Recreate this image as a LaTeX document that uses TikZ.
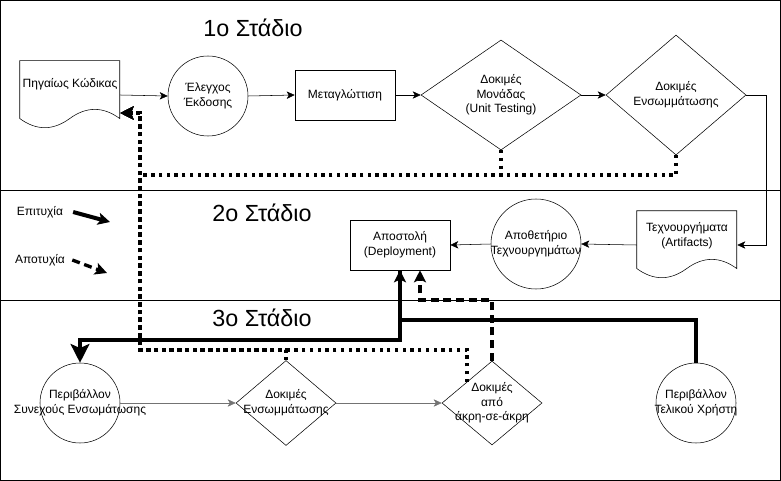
\documentclass[tikz,border=0pt]{standalone}
\usepackage{fontspec}
\setmainfont{Liberation Sans}
\usetikzlibrary{calc,positioning,arrows.meta,shapes.geometric}

% outline of a document box, drawn from the node's corner
\newcommand{\docshape}[1]{%
  \begin{scope}[shift={(#1.north west)}]
    \draw (0,0) -- (100,0) -- (100,57.8)
      .. controls (83.3,45.6) and (66.7,45.6) .. (50,57.8)
      .. controls (33.3,70) and (16.7,70) .. (0,57.8) -- cycle;
  \end{scope}}

\begin{document}
\begin{tikzpicture}[x=0.75pt,y=-0.75pt,
    docbox/.style={inner sep=0pt,minimum width=75pt,minimum height=51pt},
    roundbox/.style={circle,draw,inner sep=0pt,minimum size=60pt},
    stepbox/.style={rectangle,draw,inner sep=0pt,minimum width=75pt,minimum height=37.5pt},
    gate/.style={diamond,draw,inner sep=0pt},
    boxtext/.style={align=center,font=\fontsize{9}{11}\selectfont},
    stage/.style={font=\fontsize{17.5}{21}\selectfont},
    flow/.style={-{Stealth[length=6pt,width=5.5pt,inset=1.5pt]}},
    lowflow/.style={flow,draw=black!55},
    okline/.style={line width=3pt,-{Stealth[length=9pt,width=9pt,inset=2pt]}},
    failline/.style={line width=2.5pt,dash pattern=on 6pt off 3.5pt,-{Stealth[length=9pt,width=9pt,inset=2pt]}},
    retryline/.style={line width=2.5pt,dash pattern=on 2.4pt off 3.4pt,-{Stealth[length=10pt,width=10pt,inset=2pt]}}
  ]

  \useasboundingbox (0,0) rectangle (781,481);
  \draw (0.5,0.5) rectangle (780.5,480.5);
  \draw (0,190) -- (781,190);
  \draw (0,300) -- (781,300);

  \node (st1) [stage] at (253,28) {1ο Στάδιο};
  \node (st2) [stage] at (262,213) {2ο Στάδιο};
  \node (st3) [stage] at (262,318) {3ο Στάδιο};

  % stage 1
  \node (src) [docbox] at (70,95) {};
  \docshape{src}
  \node (src_txt) [boxtext,yshift=8pt] at (src.center) {Πηγαίως Κώδικας};

  \node (vc) [roundbox] at (208,96) {};
  \node (vc_txt) [boxtext] at (vc) {Έλεγχος\\Έκδοσης};

  \node (build) [stepbox] at (345,95) {};
  \node (build_txt) [boxtext] at (build) {Μεταγλώττιση};

  \node (unit) [gate,minimum width=120pt,minimum height=82.5pt] at (501,95) {};
  \node (unit_txt) [boxtext] at (unit) {Δοκιμές\\Μονάδας\\(Unit Testing)};

  \node (integ) [gate,minimum width=105pt,minimum height=90pt] at (676,95) {};
  \node (integ_txt) [boxtext] at (integ) {Δοκιμές\\Ενσωμμάτωσης};

  % stage 2
  \node (art) [docbox] at (687,245) {};
  \docshape{art}
  \node (art_txt) [boxtext,yshift=7pt] at (art.center) {Τεχνουργήματα\\(Artifacts)};

  \node (repo) [roundbox,minimum size=67.5pt] at (536,244) {};
  \node (repo_txt) [boxtext] at (repo) {Αποθετήριο\\Τεχνουργημάτων};

  \node (deploy) [stepbox] at (400,245) {};
  \node (deploy_txt) [boxtext] at (deploy) {Αποστολή\\(Deployment)};

  % stage 3
  \node (ci) [roundbox] at (80,403) {};
  \node (ci_txt) [boxtext] at (ci) {Περιβάλλον\\Συνεχούς Ενσωμάτωσης};

  \node (tint) [gate,minimum width=75pt,minimum height=63.75pt] at (286,403) {};
  \node (tint_txt) [boxtext] at (tint) {Δοκιμές\\Ενσωμμάτωσης};

  \node (e2e) [gate,minimum width=75pt,minimum height=63pt] at (492,403) {};
  \node (e2e_txt) [boxtext] at (e2e) {Δοκιμές\\από\\άκρη-σε-άκρη};

  \node (user) [roundbox] at (696,403) {};
  \node (user_txt) [boxtext] at (user) {Περιβάλλον\\Τελικού Χρήστη};

  % legend
  \node (leg_ok) [boxtext] at (40,212) {Επιτυχία};
  \coordinate (leg_ok_end) at (110,222);
  \node (leg_fail) [boxtext] at (40,260) {Αποτυχία};
  \coordinate (leg_fail_end) at (107,273);
  \draw[okline] ([xshift=4pt]leg_ok.east) -- (leg_ok_end);
  \draw[failline] ([xshift=2pt]leg_fail.east) -- (leg_fail_end);

  % main flow
  \draw[flow] (src.east) -- (vc.west);
  \draw[flow] (vc.east) -- (build.west);
  \draw[flow] (build.east) -- (unit.west);
  \draw[flow] (unit.east) -- (integ.west);
  \draw[flow] (integ.east) -- ++(20,0) |- (art.east);
  \draw[flow] (art.west) -- (repo.east);
  \draw[flow] (repo.west) -- (deploy.east);
  \draw[lowflow] (ci.east) -- (tint.west);
  \draw[lowflow] (tint.east) -- (e2e.west);

  % back to the source code
  \coordinate (src_in) at ([yshift=-13.5pt]src.east);
  \coordinate (back_top) at (140,175);
  \coordinate (back_bot) at (140,350);
  \draw[retryline] (unit.south) |- (back_top) |- (src_in);
  \draw[retryline] (integ.south) |- (back_top) |- (src_in);
  \draw[retryline] (tint.north) |- (back_bot) |- (src_in);
  \draw[retryline] (e2e.north west) |- (back_bot) |- (src_in);

  % deployment loop
  \draw[okline] (user.north) |- (400,320) -- (deploy.south);
  \draw[okline,-{Stealth[length=14pt,width=14pt,inset=3pt]}] (deploy.south) -- (400,340) -| (ci.north);
  \draw[failline] (e2e.north) |- (420,300) -- ([xshift=15pt]deploy.south);

\end{tikzpicture}
\end{document}
